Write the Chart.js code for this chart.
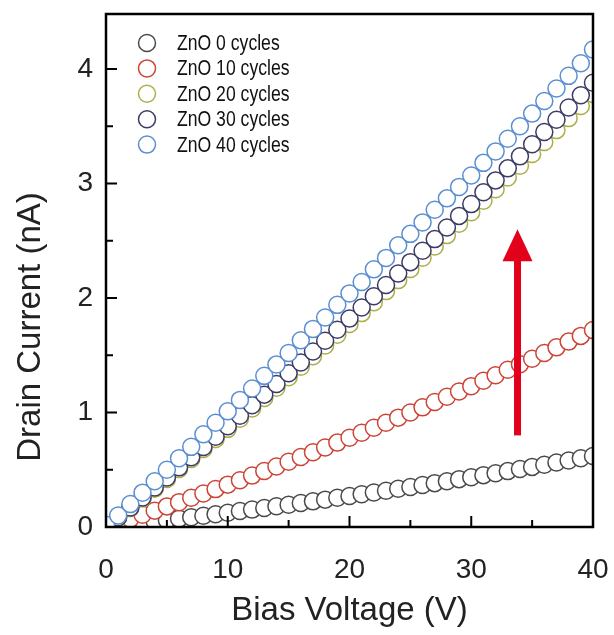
<!DOCTYPE html>
<html>
<head>
<meta charset="utf-8">
<script src="https://cdn.jsdelivr.net/npm/chart.js@4.4.0/dist/chart.umd.min.js"></script>
<style>
html, body { margin: 0; padding: 0; background: #fff; }
canvas { display: block; }
</style>
</head>
<body>
<canvas id="ivChart" width="614" height="635"></canvas>
<script>
// --- data (bias in V, current in nA) ---
const BIAS_V = [0, 1, 2, 3, 4, 5, 6, 7, 8, 9, 10, 11, 12, 13, 14, 15, 16, 17, 18, 19, 20,
                21, 22, 23, 24, 25, 26, 27, 28, 29, 30, 31, 32, 33, 34, 35, 36, 37, 38, 39, 40];

const ZNO_0 = [0, 0.012, 0.023, 0.035, 0.048, 0.06, 0.073, 0.085, 0.098, 0.112, 0.125,
               0.139, 0.152, 0.166, 0.181, 0.195, 0.21, 0.224, 0.239, 0.255, 0.27,
               0.286, 0.302, 0.317, 0.334, 0.35, 0.367, 0.383, 0.4, 0.418, 0.435,
               0.453, 0.47, 0.488, 0.507, 0.525, 0.544, 0.563, 0.581, 0.601, 0.62];

const ZNO_10 = [0, 0.035, 0.071, 0.107, 0.143, 0.18, 0.217, 0.255, 0.293, 0.331, 0.37,
                0.409, 0.449, 0.489, 0.529, 0.57, 0.611, 0.653, 0.695, 0.737, 0.78,
                0.823, 0.867, 0.911, 0.955, 1.0, 1.045, 1.091, 1.137, 1.183, 1.23,
                1.277, 1.325, 1.373, 1.421, 1.47, 1.519, 1.569, 1.619, 1.669, 1.72];

const ZNO_20 = [0, 0.08, 0.165, 0.25, 0.335, 0.42, 0.507, 0.594, 0.681, 0.768, 0.857,
                0.946, 1.035, 1.126, 1.216, 1.308, 1.4, 1.492, 1.585, 1.679, 1.773,
                1.868, 1.963, 2.06, 2.156, 2.254, 2.352, 2.45, 2.549, 2.648, 2.748,
                2.849, 2.95, 3.052, 3.155, 3.258, 3.362, 3.466, 3.571, 3.676, 3.782];

const ZNO_30 = [0, 0.085, 0.171, 0.258, 0.345, 0.433, 0.521, 0.61, 0.699, 0.789, 0.88,
                0.971, 1.063, 1.156, 1.249, 1.343, 1.437, 1.532, 1.627, 1.723, 1.82,
                1.917, 2.015, 2.114, 2.213, 2.313, 2.413, 2.514, 2.615, 2.717, 2.82,
                2.923, 3.027, 3.132, 3.237, 3.343, 3.449, 3.556, 3.663, 3.771, 3.88];

const ZNO_40 = [0.02, 0.1, 0.2, 0.3, 0.4, 0.5, 0.6, 0.7, 0.81, 0.91, 1.01,
                1.11, 1.21, 1.32, 1.42, 1.52, 1.63, 1.73, 1.83, 1.94, 2.04,
                2.14, 2.25, 2.35, 2.46, 2.56, 2.66, 2.77, 2.87, 2.97, 3.07,
                3.18, 3.28, 3.39, 3.5, 3.61, 3.72, 3.83, 3.94, 4.05, 4.17];

const SERIES_LABELS = ['ZnO 0 cycles', 'ZnO 10 cycles', 'ZnO 20 cycles', 'ZnO 30 cycles', 'ZnO 40 cycles'];

const X_TICKS = [0, 10, 20, 30, 40];
const X_MINOR_TICKS = [5, 15, 25, 35];
const Y_TICKS = [0, 1, 2, 3, 4];
const Y_MINOR_TICKS = [0.5, 1.5, 2.5, 3.5];

// arrow annotation, in data units
const ARROW_X = 33.8;
const ARROW_FROM = 0.8;
const ARROW_TO = 2.6;

// --- styling ---
const COLORS = ['#4a4a4a', '#cc4436', '#aeae48', '#3c3c66', '#5b8fd2'];
const FONT = "'Liberation Sans', Arial, sans-serif";

function toPoints(ys) {
    return BIAS_V.map((v, i) => ({ x: v, y: ys[i] }));
}

const seriesValues = [ZNO_0, ZNO_10, ZNO_20, ZNO_30, ZNO_40];

const datasets = seriesValues.map((ys, i) => ({
    label: SERIES_LABELS[i],
    data: toPoints(ys),
    showLine: false,
    pointStyle: 'circle',
    pointRadius: 8.5,
    pointBorderWidth: 1.5,
    pointBorderColor: COLORS[i],
    pointBackgroundColor: '#ffffff',
    clip: 0,
    order: seriesValues.length - 1 - i // 40 cycles drawn on top
}));

// frame + inward ticks, arrow, legend, y title
const decorPlugin = {
    id: 'decor',
    afterDatasetsDraw(chart) {
        const { ctx, chartArea: a, scales } = chart;
        const xs = scales.x, ys = scales.y;
        ctx.save();

        // red arrow
        const ax = xs.getPixelForValue(ARROW_X);
        const y0 = ys.getPixelForValue(ARROW_FROM);
        const y1 = ys.getPixelForValue(ARROW_TO);
        const headLen = 32, headHalf = 15;
        ctx.fillStyle = '#e2001a';
        ctx.fillRect(ax - 3.5, y1 + headLen - 1, 7, y0 - (y1 + headLen - 1));
        ctx.beginPath();
        ctx.moveTo(ax, y1);
        ctx.lineTo(ax + headHalf, y1 + headLen);
        ctx.lineTo(ax - headHalf, y1 + headLen);
        ctx.closePath();
        ctx.fill();

        // ticks
        ctx.strokeStyle = '#000';
        ctx.lineWidth = 2;
        ctx.beginPath();
        X_TICKS.forEach(v => {
            const px = xs.getPixelForValue(v);
            ctx.moveTo(px, a.bottom); ctx.lineTo(px, a.bottom - 11);
        });
        X_MINOR_TICKS.forEach(v => {
            const px = xs.getPixelForValue(v);
            ctx.moveTo(px, a.bottom); ctx.lineTo(px, a.bottom - 7);
        });
        Y_TICKS.forEach(v => {
            const py = ys.getPixelForValue(v);
            ctx.moveTo(a.left, py); ctx.lineTo(a.left + 11, py);
        });
        Y_MINOR_TICKS.forEach(v => {
            const py = ys.getPixelForValue(v);
            ctx.moveTo(a.left, py); ctx.lineTo(a.left + 7, py);
        });
        ctx.stroke();

        // frame
        ctx.lineWidth = 2.5;
        ctx.strokeRect(a.left, a.top, a.right - a.left, a.bottom - a.top);

        // legend
        ctx.textBaseline = 'middle';
        ctx.textAlign = 'left';
        ctx.font = '22px ' + FONT;
        chart.data.datasets.forEach((ds, i) => {
            const cy = a.top + 29 + i * 25.4;
            const cx = a.left + 41;
            ctx.beginPath();
            ctx.arc(cx, cy, 8.5, 0, Math.PI * 2);
            ctx.fillStyle = '#fff';
            ctx.fill();
            ctx.lineWidth = 1.5;
            ctx.strokeStyle = ds.pointBorderColor;
            ctx.stroke();
            ctx.fillStyle = '#111';
            const w = ctx.measureText(ds.label).width;
            ctx.fillText(ds.label, cx + 30, cy + 1, w * 0.8);
        });

        // y axis title
        ctx.save();
        ctx.translate(31, 327);
        ctx.rotate(-Math.PI / 2);
        ctx.textAlign = 'center';
        ctx.font = '33px ' + FONT;
        ctx.fillStyle = '#222';
        ctx.fillText('Drain Current (nA)', 0, 0);
        ctx.restore();

        ctx.restore();
    }
};

new Chart(document.getElementById('ivChart'), {
    type: 'scatter',
    data: { datasets: datasets },
    options: {
        responsive: false,
        animation: false,
        events: [],
        layout: { padding: { top: 14, right: 21, left: 0, bottom: 0 } },
        plugins: { legend: { display: false }, tooltip: { enabled: false } },
        scales: {
            x: {
                type: 'linear',
                min: 0,
                max: 40,
                afterFit: s => { s.height = 108; s.paddingLeft = 0; s.paddingRight = 0; },
                afterBuildTicks: s => { s.ticks = X_TICKS.map(v => ({ value: v })); },
                grid: { display: false, drawTicks: false },
                border: { display: false },
                ticks: { font: { family: FONT, size: 28 }, color: '#222', padding: 26, maxRotation: 0 },
                title: {
                    display: true,
                    text: 'Bias Voltage (V)',
                    font: { family: FONT, size: 33 },
                    color: '#222',
                    padding: { top: 4, bottom: 4 }
                }
            },
            y: {
                type: 'linear',
                min: 0,
                max: 4.48,
                afterFit: s => { s.width = 106; s.paddingTop = 0; s.paddingBottom = 0; },
                afterBuildTicks: s => { s.ticks = Y_TICKS.map(v => ({ value: v })); },
                grid: { display: false, drawTicks: false },
                border: { display: false },
                ticks: { font: { family: FONT, size: 28 }, color: '#222', padding: 13 }
            }
        }
    },
    plugins: [decorPlugin]
});
</script>
</body>
</html>
